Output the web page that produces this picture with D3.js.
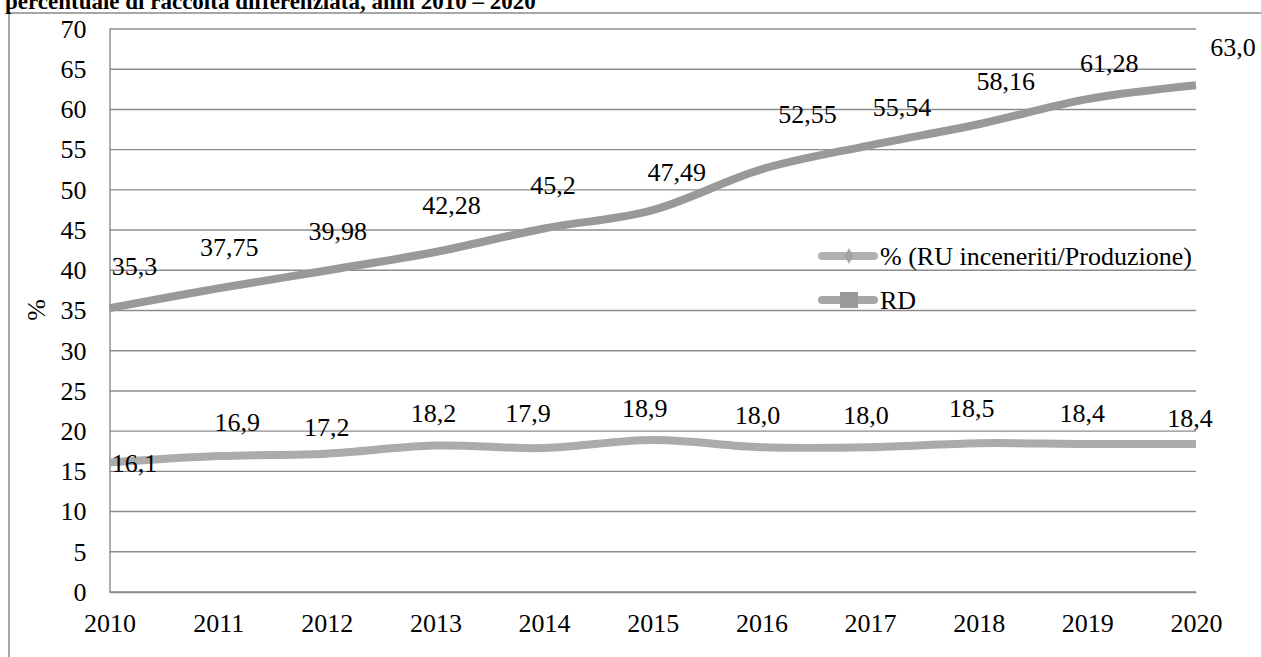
<!DOCTYPE html>
<html>
<head>
<meta charset="utf-8">
<script src="https://cdn.jsdelivr.net/npm/d3@7"></script>
<style>
	body { margin: 0; background: #fff; }
	text { font-family: "Liberation Serif", "Times New Roman", serif; fill: #000; }
</style>
</head>
<body>
<div id="plot"></div>
<script>
var years = [2010, 2011, 2012, 2013, 2014, 2015, 2016, 2017, 2018, 2019, 2020];
var inceneritiValues = [16.1, 16.9, 17.2, 18.2, 17.9, 18.9, 18.0, 18.0, 18.5, 18.4, 18.4];
var rdValues = [35.3, 37.75, 39.98, 42.28, 45.2, 47.49, 52.55, 55.54, 58.16, 61.28, 63.0];
var inceneritiLabels = ["16,1", "16,9", "17,2", "18,2", "17,9", "18,9", "18,0", "18,0", "18,5", "18,4", "18,4"];
var rdLabels = ["35,3", "37,75", "39,98", "42,28", "45,2", "47,49", "52,55", "55,54", "58,16", "61,28", "63,0"];
var yTicks = [0, 5, 10, 15, 20, 25, 30, 35, 40, 45, 50, 55, 60, 65, 70];
var seriesNames = ["% (RU inceneriti/Produzione)", "RD"];
var titleText = "percentuale di raccolta differenziata, anni 2010 \u2013 2020";

// label nudges (pixels) as placed in the original chart
var rdNudge = [[25, -33], [11, -32], [11, -30], [16, -38], [9, -34], [24, -29], [46, -46], [32, -29], [27, -34], [22, -27], [37, -29]];
var incNudge = [[25, 9], [19, -25], [0, -18], [-2, -24], [-16, -26], [-8, -23], [-4, -23], [-4, -23], [-7, -26], [-5, -22], [-6, -17]];

function chart(){
	var W = 1261, H = 657;
	var margin = {top: 29, left: 109.5, right: 65, bottom: 65};

	var svg = d3.select("#plot").append("svg")
		.attr("width", W)
		.attr("height", H);

	// outer frame
	svg.append("path")
		.attr("d", "M9," + H + "V13H" + W)
		.attr("fill", "none")
		.attr("stroke", "#8a8a8a")
		.attr("stroke-width", 1.5);

	// title, cropped at the top like in the source image
	svg.append("text")
		.attr("x", 5)
		.attr("y", 9)
		.style("font-size", "23px")
		.style("font-weight", "bold")
		.text(titleText);

	var x = d3.scaleLinear().domain([2010, 2020]).range([margin.left, W - margin.right]);
	var y = d3.scaleLinear().domain([0, 70]).range([H - margin.bottom, margin.top]);

	var g = svg.append("g");

	// grid
	g.selectAll(".grid")
		.data(yTicks)
		.enter().append("line")
		.attr("x1", x(2010))
		.attr("x2", x(2020))
		.attr("y1", function(d) { return y(d); })
		.attr("y2", function(d) { return y(d); })
		.attr("stroke", "#8c8c8c")
		.attr("stroke-width", 1.4);

	var yAx = g.append("g")
		.attr("transform", "translate(" + x(2010) + ",0)")
		.call(d3.axisLeft(y).tickValues(yTicks).tickSize(0).tickPadding(23).tickFormat(d3.format("d")));
	yAx.select(".domain").attr("stroke", "#8c8c8c").attr("stroke-width", 1.4);
	yAx.selectAll("text").style("font-size", "26px").style("font-family", "Liberation Serif");

	var xAx = g.append("g")
		.attr("transform", "translate(0," + y(0) + ")")
		.call(d3.axisBottom(x).tickValues(years).tickSize(0).tickPadding(22).tickFormat(d3.format("d")));
	xAx.select(".domain").attr("stroke", "#8c8c8c").attr("stroke-width", 1.4);
	xAx.selectAll("text").style("font-size", "26px").style("font-family", "Liberation Serif");

	svg.append("text")
		.attr("transform", "translate(45,310) rotate(-90)")
		.attr("text-anchor", "middle")
		.style("font-size", "26px")
		.text("%");

	var line = d3.line()
		.x(function(d, i) { return x(years[i]); })
		.y(function(d) { return y(d); })
		.curve(d3.curveCardinal.tension(0));

	g.append("path")
		.datum(rdValues)
		.attr("d", line)
		.attr("fill", "none")
		.attr("stroke", "#999999")
		.attr("stroke-width", 8);

	g.append("path")
		.datum(inceneritiValues)
		.attr("d", line)
		.attr("fill", "none")
		.attr("stroke", "#ababab")
		.attr("stroke-width", 8);

	// data labels
	g.selectAll(".rdlab")
		.data(rdValues)
		.enter().append("text")
		.attr("x", function(d, i) { return x(years[i]) + rdNudge[i][0]; })
		.attr("y", function(d, i) { return y(d) + rdNudge[i][1]; })
		.attr("text-anchor", "middle")
		.style("font-size", "26px")
		.text(function(d, i) { return rdLabels[i]; });

	g.selectAll(".inclab")
		.data(inceneritiValues)
		.enter().append("text")
		.attr("x", function(d, i) { return x(years[i]) + incNudge[i][0]; })
		.attr("y", function(d, i) { return y(d) + incNudge[i][1]; })
		.attr("text-anchor", "middle")
		.style("font-size", "26px")
		.text(function(d, i) { return inceneritiLabels[i]; });

	// legend
	var leg = svg.append("g").attr("transform", "translate(818,0)");
	var legY = [256, 300];
	var legCol = ["#b0b0b0", "#a6a6a6"];

	leg.selectAll(".lline")
		.data(seriesNames)
		.enter().append("line")
		.attr("x1", 4).attr("x2", 56)
		.attr("y1", function(d, i) { return legY[i]; })
		.attr("y2", function(d, i) { return legY[i]; })
		.attr("stroke", function(d, i) { return legCol[i]; })
		.attr("stroke-width", 8)
		.attr("stroke-linecap", "round");

	leg.append("path")
		.attr("d", d3.symbol().type(d3.symbolDiamond).size(70)())
		.attr("transform", "translate(31," + legY[0] + ")")
		.attr("fill", "#a2a2a2");

	leg.append("rect")
		.attr("x", 22).attr("y", legY[1] - 8)
		.attr("width", 18).attr("height", 16)
		.attr("fill", "#999999");

	leg.selectAll(".ltext")
		.data(seriesNames)
		.enter().append("text")
		.attr("x", 62)
		.attr("y", function(d, i) { return legY[i] + 9; })
		.style("font-size", "26px")
		.text(function(d) { return d; });
}

chart();
</script>
</body>
</html>
